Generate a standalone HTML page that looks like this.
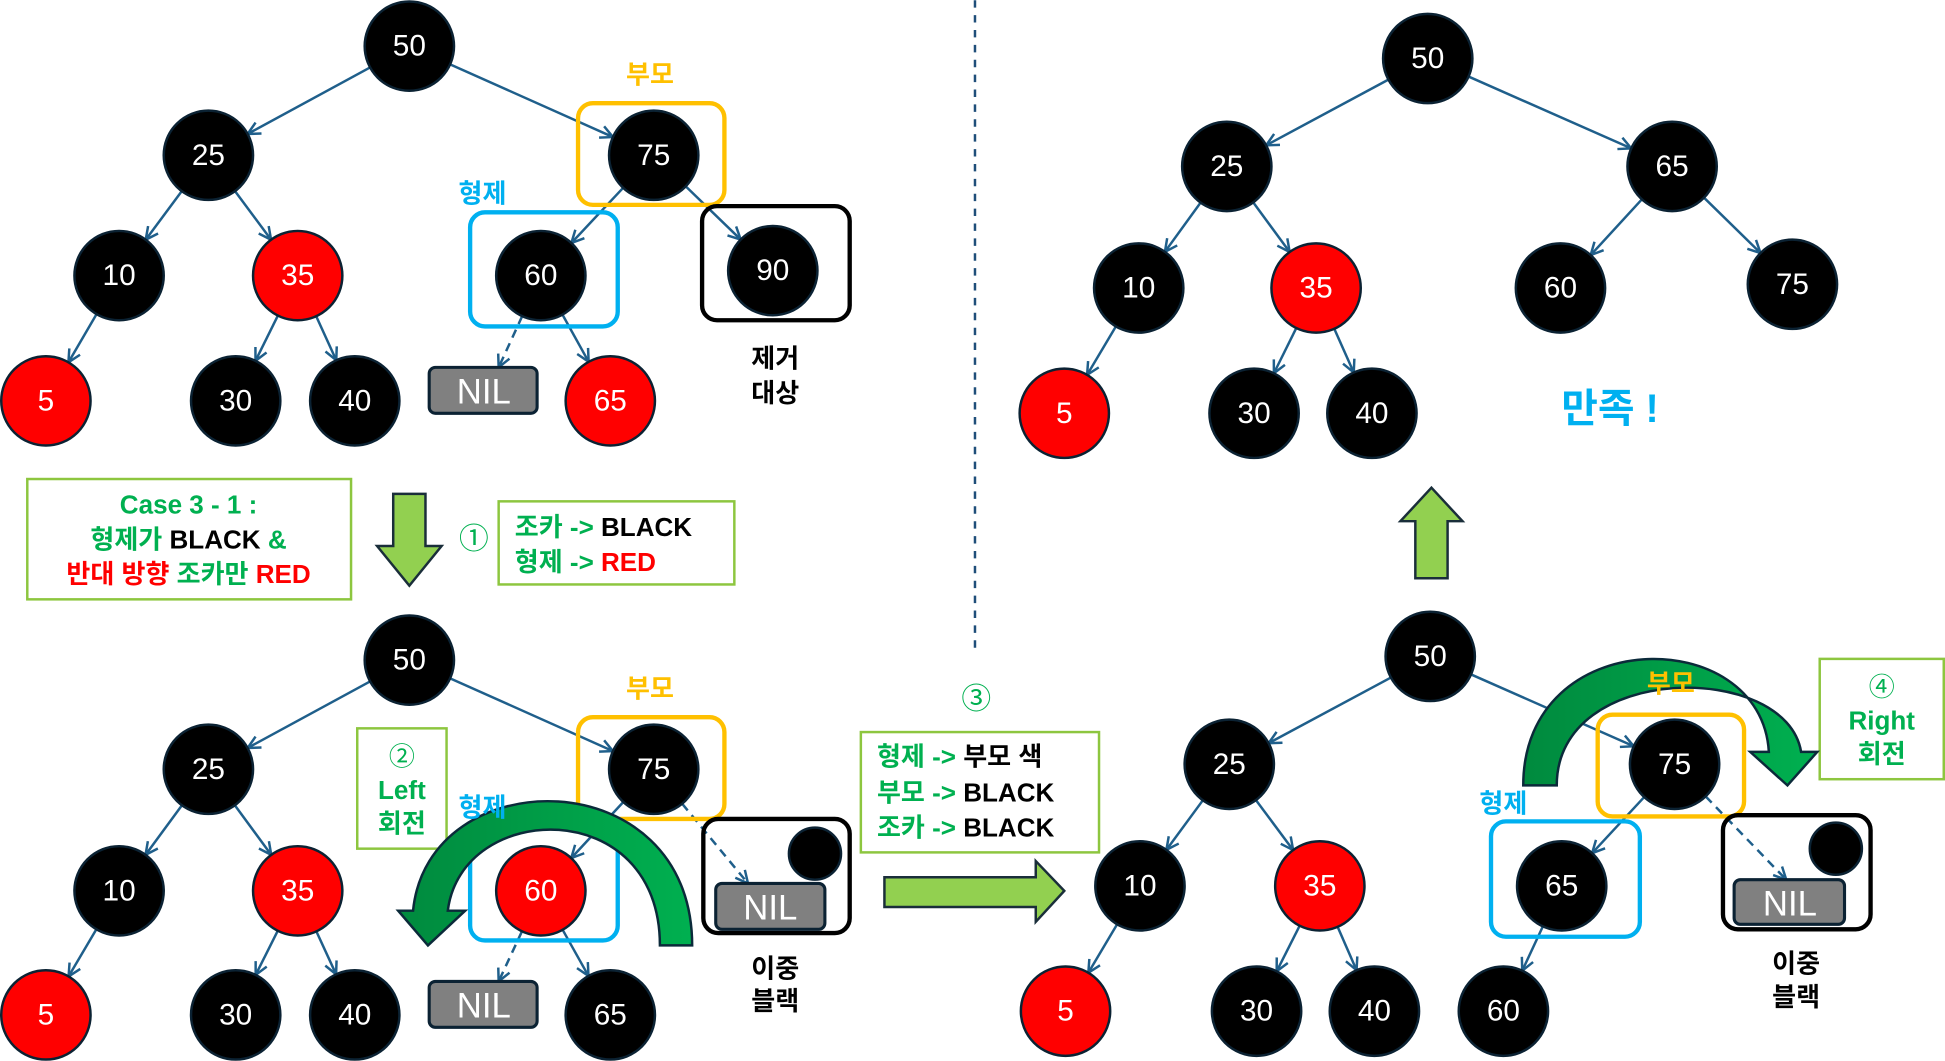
<!DOCTYPE html>
<html><head><meta charset="utf-8">
<style>
html,body{margin:0;padding:0;background:#fff;}
svg{display:block;}
text{font-family:"Liberation Sans","Noto Sans CJK KR",sans-serif;}
.n{stroke:#0b2233;stroke-width:2;}
.nt{fill:#fff;font-size:24px;text-anchor:middle;dominant-baseline:central;}
.k{font-weight:bold;text-anchor:middle;}
.g{fill:#00b050;} .r{fill:#ff0000;} .b{fill:#000;}
</style></head><body>
<svg id="s" width="1945" height="1061" viewBox="0 0 1568 855" xmlns="http://www.w3.org/2000/svg">
<defs>
<marker id="ah" viewBox="0 0 12 12" refX="11" refY="6" markerWidth="12" markerHeight="12" markerUnits="userSpaceOnUse" orient="auto">
<path d="M1,1 L11,6 L1,11" fill="none" stroke="#1f5f8b" stroke-width="2"/></marker>
<linearGradient id="gg" x1="0" x2="1" y1="0" y2="0"><stop offset="0" stop-color="#00b050"/><stop offset="1" stop-color="#008a3e"/></linearGradient>
<linearGradient id="gg2" x1="0" x2="1" y1="0" y2="0"><stop offset="0" stop-color="#008a3e"/><stop offset="1" stop-color="#00b050"/></linearGradient>
</defs>
<g id="edges"></g>

<!-- dashed divider -->
<line x1="786" y1="0" x2="786" y2="528" stroke="#1f4e79" stroke-width="2" stroke-dasharray="6,6"/>

<!-- boxes -->
<g fill="none" stroke-width="3.5">
<rect x="466" y="83" width="118" height="82" rx="12" stroke="#ffc000"/>
<rect x="379" y="171" width="119" height="92" rx="12" stroke="#00b0f0"/>
<rect x="566" y="166" width="119" height="92" rx="12" stroke="#000"/>
<rect x="466" y="578" width="118" height="82" rx="12" stroke="#ffc000"/>
<rect x="379" y="664" width="119" height="94" rx="12" stroke="#00b0f0"/>
<rect x="567" y="660" width="118" height="92" rx="12" stroke="#000"/>
<rect x="1288" y="576" width="118" height="82" rx="12" stroke="#ffc000"/>
<rect x="1202" y="662" width="120" height="93" rx="12" stroke="#00b0f0"/>
<rect x="1389" y="657" width="119" height="92" rx="12" stroke="#000"/>
</g>
<g fill="#fff" stroke="#8dc63f" stroke-width="2">
<rect x="22" y="386" width="261" height="97"/>
<rect x="402" y="404" width="190" height="67"/>
<rect x="288" y="587" width="72" height="97"/>
<rect x="694" y="590" width="192" height="97"/>
<rect x="1467" y="531" width="100" height="97"/>
</g>

<!-- NIL rects -->
<g fill="#808080" stroke="#0b2233" stroke-width="2.5">
<rect x="346" y="296" width="87" height="37" rx="5"/>
<rect x="346" y="791" width="87" height="37" rx="5"/>
<rect x="577" y="712" width="88" height="37" rx="5"/>
<rect x="1398" y="709" width="89" height="36" rx="5"/>
</g>
<g fill="#000" class="n">
<circle cx="657" cy="688" r="21"/><circle cx="1480" cy="684" r="21"/>
</g>
<g fill="#fff" font-size="28" text-anchor="middle">
<text x="390" y="325">NIL</text><text x="390" y="820">NIL</text>
<text x="621" y="741">NIL</text><text x="1443" y="738">NIL</text>
</g>

<!-- nodes -->
<g class="n">
<circle cx="330" cy="37" r="36" fill="#000"/>
<circle cx="168" cy="125" r="36" fill="#000"/>
<circle cx="527" cy="125" r="36" fill="#000"/>
<circle cx="96" cy="222" r="36" fill="#000"/>
<circle cx="240" cy="222" r="36" fill="#f00"/>
<circle cx="436" cy="222" r="36" fill="#000"/>
<circle cx="623" cy="218" r="36" fill="#000"/>
<circle cx="37" cy="323" r="36" fill="#f00"/>
<circle cx="190" cy="323" r="36" fill="#000"/>
<circle cx="286" cy="323" r="36" fill="#000"/>
<circle cx="492" cy="323" r="36" fill="#f00"/>

<circle cx="330" cy="532" r="36" fill="#000"/>
<circle cx="168" cy="620" r="36" fill="#000"/>
<circle cx="527" cy="620" r="36" fill="#000"/>
<circle cx="96" cy="718" r="36" fill="#000"/>
<circle cx="240" cy="718" r="36" fill="#f00"/>
<circle cx="436" cy="718" r="36" fill="#f00"/>
<circle cx="37" cy="818" r="36" fill="#f00"/>
<circle cx="190" cy="818" r="36" fill="#000"/>
<circle cx="286" cy="818" r="36" fill="#000"/>
<circle cx="492" cy="818" r="36" fill="#000"/>

<circle cx="1151" cy="47" r="36" fill="#000"/>
<circle cx="989" cy="134" r="36" fill="#000"/>
<circle cx="1348" cy="134" r="36" fill="#000"/>
<circle cx="918" cy="232" r="36" fill="#000"/>
<circle cx="1061" cy="232" r="36" fill="#f00"/>
<circle cx="1258" cy="232" r="36" fill="#000"/>
<circle cx="1445" cy="229" r="36" fill="#000"/>
<circle cx="858" cy="333" r="36" fill="#f00"/>
<circle cx="1011" cy="333" r="36" fill="#000"/>
<circle cx="1106" cy="333" r="36" fill="#000"/>

<circle cx="1153" cy="529" r="36" fill="#000"/>
<circle cx="991" cy="616" r="36" fill="#000"/>
<circle cx="1350" cy="616" r="36" fill="#000"/>
<circle cx="919" cy="714" r="36" fill="#000"/>
<circle cx="1064" cy="714" r="36" fill="#f00"/>
<circle cx="1259" cy="714" r="36" fill="#000"/>
<circle cx="859" cy="815" r="36" fill="#f00"/>
<circle cx="1013" cy="815" r="36" fill="#000"/>
<circle cx="1108" cy="815" r="36" fill="#000"/>
<circle cx="1212" cy="815" r="36" fill="#000"/>
</g>
<g class="nt">
<text x="330" y="37">50</text><text x="168" y="125">25</text><text x="527" y="125">75</text>
<text x="96" y="222">10</text><text x="240" y="222">35</text><text x="436" y="222">60</text>
<text x="623" y="218">90</text><text x="37" y="323">5</text><text x="190" y="323">30</text>
<text x="286" y="323">40</text><text x="492" y="323">65</text>

<text x="330" y="532">50</text><text x="168" y="620">25</text><text x="527" y="620">75</text>
<text x="96" y="718">10</text><text x="240" y="718">35</text><text x="436" y="718">60</text>
<text x="37" y="818">5</text><text x="190" y="818">30</text><text x="286" y="818">40</text>
<text x="492" y="818">65</text>

<text x="1151" y="47">50</text><text x="989" y="134">25</text><text x="1348" y="134">65</text>
<text x="918" y="232">10</text><text x="1061" y="232">35</text><text x="1258" y="232">60</text>
<text x="1445" y="229">75</text><text x="858" y="333">5</text><text x="1011" y="333">30</text>
<text x="1106" y="333">40</text>

<text x="1153" y="529">50</text><text x="991" y="616">25</text><text x="1350" y="616">75</text>
<text x="919" y="714">10</text><text x="1064" y="714">35</text><text x="1259" y="714">65</text>
<text x="859" y="815">5</text><text x="1013" y="815">30</text><text x="1108" y="815">40</text>
<text x="1212" y="815">60</text>
</g>

<!-- rotation arrows -->
<path d="M558,762 C558,612 345,612 333,734 L321,734 L345,762 L375,734 L361,734 C372,645 532,640 532,762 Z" fill="url(#gg2)" stroke="#0b2a3a" stroke-width="2"/>
<path d="M1228,633 C1228,502 1420,502 1426,606 L1411,606 L1441,633 L1465,606 L1452,606 C1440,533 1255,533 1255,633 Z" fill="url(#gg2)" stroke="#0b2a3a" stroke-width="2"/>

<!-- big arrows -->
<g fill="#92d050" stroke="#1a2e3a" stroke-width="2">
<path d="M317,398 L343,398 L343,440 L356,440 L330,472 L304,440 L317,440 Z"/>
<path d="M713,707 L835,707 L835,694 L858,718 L835,743 L835,731 L713,731 Z"/>
<path d="M1154,393 L1179,420 L1167,420 L1167,466 L1141,466 L1141,420 L1129,420 Z"/>
</g>

<!-- labels -->
<g font-size="21" font-weight="bold" text-anchor="middle">
<text x="524" y="67" fill="#ffc000">부모</text>
<text x="389" y="163" fill="#00b0f0">형제</text>
<text x="625" y="296" fill="#000">제거</text>
<text x="625" y="324" fill="#000">대상</text>
<text x="524" y="562" fill="#ffc000">부모</text>
<text x="389" y="658" fill="#00b0f0">형제</text>
<text x="625" y="788" fill="#000">이중</text>
<text x="625" y="814" fill="#000">블랙</text>
<text x="1347" y="558" fill="#ffc000">부모</text>
<text x="1212" y="655" fill="#00b0f0">형제</text>
<text x="1448" y="784" fill="#000">이중</text>
<text x="1448" y="811" fill="#000">블랙</text>
</g>
<text x="1298" y="340" font-size="32" font-weight="bold" fill="#00b0f0" text-anchor="middle">만족 !</text>

<g font-size="21" font-weight="bold" text-anchor="middle">
<text x="152" y="414" class="g">Case 3 - 1 :</text>
<text x="152" y="442"><tspan class="g">형제가 </tspan><tspan class="b">BLACK </tspan><tspan class="g">&amp;</tspan></text>
<text x="152" y="470"><tspan class="r">반대 방향 </tspan><tspan class="g">조카만 </tspan><tspan class="r">RED</tspan></text>
<text x="382" y="442" class="g" font-size="24" font-weight="normal">①</text>
<text x="415" y="432" text-anchor="start"><tspan class="g">조카 -&gt; </tspan><tspan class="b">BLACK</tspan></text>
<text x="415" y="460" text-anchor="start"><tspan class="g">형제 -&gt; </tspan><tspan class="r">RED</tspan></text>
<text x="324" y="617" class="g" font-weight="normal">②</text>
<text x="324" y="644" class="g">Left</text>
<text x="324" y="671" class="g">회전</text>
<text x="787" y="571" class="g" font-size="24" font-weight="normal">③</text>
<text x="707" y="617" text-anchor="start"><tspan class="g">형제 -&gt; </tspan><tspan class="b">부모 색</tspan></text>
<text x="707" y="646" text-anchor="start"><tspan class="g">부모 -&gt; </tspan><tspan class="b">BLACK</tspan></text>
<text x="707" y="674" text-anchor="start"><tspan class="g">조카 -&gt; </tspan><tspan class="b">BLACK</tspan></text>
<text x="1517" y="561" class="g" font-weight="normal">④</text>
<text x="1517" y="588" class="g">Right</text>
<text x="1517" y="615" class="g">회전</text>
</g>
</svg>
<script>
var R=36,E=[
[330,37,168,125],[330,37,527,125],[168,125,96,222],[168,125,240,222],[527,125,436,222],[527,125,623,218],
[96,222,37,323],[240,222,190,323],[240,222,286,323],[436,222,402,296,0,1],[436,222,492,323],
[330,532,168,620],[330,532,527,620],[168,620,96,718],[168,620,240,718],[527,620,436,718],[527,620,603,712,0,1],
[96,718,37,818],[240,718,190,818],[240,718,286,818],[436,718,402,791,0,1],[436,718,492,818],
[1151,47,989,134],[1151,47,1348,134],[989,134,918,232],[989,134,1061,232],[1348,134,1258,232],[1348,134,1445,229],
[918,232,858,333],[1061,232,1011,333],[1061,232,1106,333],
[1153,529,991,616],[1153,529,1350,616],[991,616,919,714],[991,616,1064,714],[1350,616,1259,714],[1350,616,1440,709,0,1],
[919,714,859,815],[1064,714,1013,815],[1064,714,1108,815],[1259,714,1212,815]];
var g=document.getElementById('edges'),h='';
E.forEach(function(e){var dx=e[2]-e[0],dy=e[3]-e[1],L=Math.hypot(dx,dy),ux=dx/L,uy=dy/L;
var x1=e[0]+ux*R,y1=e[1]+uy*R,t=e[4]===0?0:R,x2=e[2]-ux*t,y2=e[3]-uy*t;
h+='<line x1="'+x1+'" y1="'+y1+'" x2="'+x2+'" y2="'+y2+'" stroke="#1f5f8b" stroke-width="2"'+(e[5]?' stroke-dasharray="7,5"':'')+' marker-end="url(#ah)"/>';});
g.innerHTML=h;
</script>
</body></html>
